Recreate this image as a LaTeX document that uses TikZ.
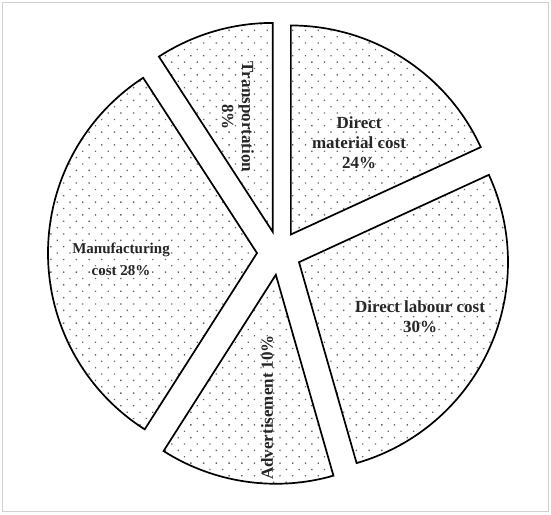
\documentclass[tikz,border=0pt]{standalone}
\usepackage{fontspec}
\setmainfont{Liberation Serif}
\usetikzlibrary{calc,patterns.meta}
\begin{document}
\begin{tikzpicture}[x=1pt,y=1pt,
  slice/.style={draw=black,line width=1.7pt,line join=miter,
    pattern={Dots[distance=9pt,radius=0.95pt,angle=45]},pattern color=black!60},
  lbl/.style={font=\bfseries\fontsize{17}{20}\selectfont,align=center,inner sep=0pt,text=black!85},
  frame/.style={draw=black!18,line width=1.5pt}]
\useasboundingbox (0,0) rectangle (551,514);
\draw[frame] (2.5,2.5) rectangle (548.5,511.5);
\coordinate (C) at (279,261);
\def\R{209}
\def\off{22}
% Direct material cost
\coordinate (Am) at ($(C)+(57.35:\off)$);
\draw[slice] (Am) -- ++(24.7:\R) arc[start angle=24.7,end angle=90,radius=\R] -- cycle;
% Direct labour cost
\coordinate (Al) at ($(C)+(-24.65:\off)$);
\draw[slice] (Al) -- ++(-74:\R) arc[start angle=-74,end angle=24.7,radius=\R] -- cycle;
% Advertisement
\coordinate (Aa) at ($(C)+(-98.25:\off)$);
\draw[slice] (Aa) -- ++(-122.5:\R) arc[start angle=-122.5,end angle=-74,radius=\R] -- cycle;
% Manufacturing
\coordinate (Af) at ($(C)+(180.25:\off)$);
\draw[slice] (Af) -- ++(123:\R) arc[start angle=123,end angle=237.5,radius=\R] -- cycle;
% Transportation
\coordinate (At) at ($(C)+(106.5:\off)$);
\draw[slice] (At) -- ++(90:\R) arc[start angle=90,end angle=123,radius=\R] -- cycle;
% labels
\node[lbl] (tm) at (359,371) {Direct\\material cost\\24\%};
\node[lbl] (tl) at (420,197) {Direct labour cost\\30\%};
\node[lbl,font=\bfseries\fontsize{15}{22}\selectfont] (tf) at (121,255) {Manufacturing\\cost 28\%};
\node[lbl,rotate=-90] (tt) at (238,397) {Transportation\\8\%};
\node[lbl,rotate=90] (ta) at (267,106.5) {Advertisement 10\%};
\end{tikzpicture}
\end{document}
